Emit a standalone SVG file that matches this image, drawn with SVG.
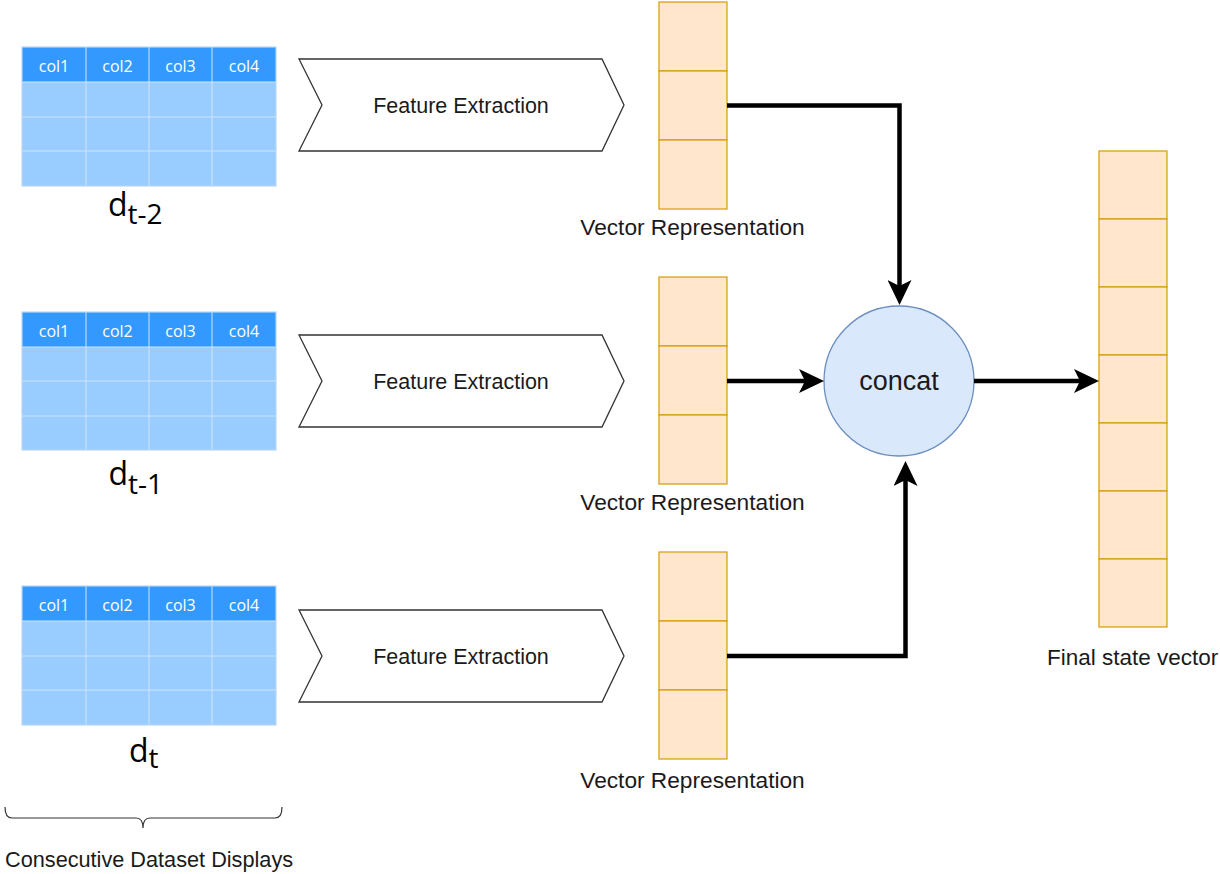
<svg xmlns="http://www.w3.org/2000/svg" width="1220" height="874" viewBox="0 0 1220 874">
<style>
  .hdr { fill: #3399ff; }
  .body { fill: #99ccff; }
  .grid { stroke: #cce5ff; stroke-width: 1; fill: none; }
  .frame { fill: none; stroke: #b9d6f2; stroke-width: 1.2; }
  .col { font-family: "Open Sans", "Noto Sans", sans-serif; font-size: 16px; fill: #ffffff; text-anchor: middle; }
  .dlab { font-family: "Open Sans", "Noto Sans", sans-serif; font-size: 32px; fill: #000000; }
  .chev { fill: #ffffff; stroke: #333333; stroke-width: 1.3; }
  .lbl { font-family: "Liberation Sans", Arial, sans-serif; fill: #1a1a1a; }
  .vec { fill: #ffe6cc; stroke: #d79b00; stroke-width: 1.2; }
  .conn { fill: none; stroke: #000000; stroke-width: 4.5; marker-end: url(#arr); }
</style>
<defs>
  <marker id="arr" markerUnits="userSpaceOnUse" markerWidth="25" markerHeight="24" viewBox="0 0 25 24" refX="6" refY="12" orient="auto">
    <path d="M0,0 L25,12 L0,24 L6,12 Z" fill="#000000"/>
  </marker>
</defs>
<rect width="1220" height="874" fill="#ffffff"/>

<!-- Tables -->
<g id="table-t2">
  <rect class="body" x="22" y="47" width="254" height="139"/>
  <rect class="hdr" x="22" y="47" width="254" height="35"/>
  <path class="grid" d="M86,47 V186 M149,47 V186 M212,47 V186 M22,82 H276 M22,117 H276 M22,151 H276"/>
  <rect class="frame" x="22" y="47" width="254" height="139"/>
  <text class="col" x="54" y="72">col1</text>
  <text class="col" x="117.5" y="72">col2</text>
  <text class="col" x="180.5" y="72">col3</text>
  <text class="col" x="244" y="72">col4</text>
  <text class="dlab" x="108" y="215.5">d<tspan font-size="28" dy="8.5">t-2</tspan></text>
</g>
<g id="table-t1">
  <rect class="body" x="22" y="312" width="254" height="138"/>
  <rect class="hdr" x="22" y="312" width="254" height="35"/>
  <path class="grid" d="M86,312 V450 M149,312 V450 M212,312 V450 M22,347 H276 M22,381 H276 M22,416 H276"/>
  <rect class="frame" x="22" y="312" width="254" height="138"/>
  <text class="col" x="54" y="337">col1</text>
  <text class="col" x="117.5" y="337">col2</text>
  <text class="col" x="180.5" y="337">col3</text>
  <text class="col" x="244" y="337">col4</text>
  <text class="dlab" x="108.5" y="485">d<tspan font-size="28" dy="8.5">t-1</tspan></text>
</g>
<g id="table-t">
  <rect class="body" x="22" y="586" width="254" height="139"/>
  <rect class="hdr" x="22" y="586" width="254" height="35"/>
  <path class="grid" d="M86,586 V725 M149,586 V725 M212,586 V725 M22,621 H276 M22,656 H276 M22,690 H276"/>
  <rect class="frame" x="22" y="586" width="254" height="139"/>
  <text class="col" x="54" y="611">col1</text>
  <text class="col" x="117.5" y="611">col2</text>
  <text class="col" x="180.5" y="611">col3</text>
  <text class="col" x="244" y="611">col4</text>
  <text class="dlab" x="129" y="761.5">d<tspan font-size="28" dy="6.5">t</tspan></text>
</g>

<!-- Brace -->
<g id="brace">
  <path d="M5,807 Q5,818 12,818 H136 Q143,818 143,828 Q143,818 150,818 H275 Q282,818 282,807" fill="none" stroke="#333333" stroke-width="1.2"/>
  <text class="lbl" x="5" y="867" font-size="21.7">Consecutive Dataset Displays</text>
</g>

<!-- Feature extraction chevrons -->
<g id="fe-1">
  <polygon class="chev" points="299,59 602,59 624,105 602,151 299,151 322,105"/>
  <text class="lbl" x="461" y="112.5" font-size="21.5" text-anchor="middle">Feature Extraction</text>
</g>
<g id="fe-2">
  <polygon class="chev" points="299,335 602,335 624,381 602,427 299,427 322,381"/>
  <text class="lbl" x="461" y="388.5" font-size="21.5" text-anchor="middle">Feature Extraction</text>
</g>
<g id="fe-3">
  <polygon class="chev" points="299,610 602,610 624,656 602,702 299,702 322,656"/>
  <text class="lbl" x="461" y="663.5" font-size="21.5" text-anchor="middle">Feature Extraction</text>
</g>

<!-- Vector representations -->
<g id="vec-1">
  <rect class="vec" x="659" y="2" width="68" height="69"/>
  <rect class="vec" x="659" y="71" width="68" height="69"/>
  <rect class="vec" x="659" y="140" width="68" height="69"/>
  <text class="lbl" x="692.5" y="235" font-size="22.7" text-anchor="middle">Vector Representation</text>
</g>
<g id="vec-2">
  <rect class="vec" x="659" y="277" width="68" height="69"/>
  <rect class="vec" x="659" y="346" width="68" height="69"/>
  <rect class="vec" x="659" y="415" width="68" height="69"/>
  <text class="lbl" x="692.5" y="510" font-size="22.7" text-anchor="middle">Vector Representation</text>
</g>
<g id="vec-3">
  <rect class="vec" x="659" y="552" width="68" height="69"/>
  <rect class="vec" x="659" y="621" width="68" height="69"/>
  <rect class="vec" x="659" y="690" width="68" height="69"/>
  <text class="lbl" x="692.5" y="788" font-size="22.7" text-anchor="middle">Vector Representation</text>
</g>

<!-- Concat -->
<g id="concat">
  <circle cx="899" cy="381" r="75" fill="#dae8fc" stroke="#6c8ebf" stroke-width="1.3"/>
  <text class="lbl" x="899" y="390" font-size="27" text-anchor="middle">concat</text>
</g>

<!-- Final state vector -->
<g id="final">
  <rect class="vec" x="1099" y="151" width="68" height="68"/>
  <rect class="vec" x="1099" y="219" width="68" height="68"/>
  <rect class="vec" x="1099" y="287" width="68" height="68"/>
  <rect class="vec" x="1099" y="355" width="68" height="68"/>
  <rect class="vec" x="1099" y="423" width="68" height="68"/>
  <rect class="vec" x="1099" y="491" width="68" height="68"/>
  <rect class="vec" x="1099" y="559" width="68" height="68"/>
  <text class="lbl" x="1047" y="665" font-size="22.5">Final state vector</text>
</g>

<!-- Connectors -->
<g id="connectors">
  <path class="conn" d="M727,105.5 H899.5 V286"/>
  <path class="conn" d="M727,381 H805"/>
  <path class="conn" d="M727,656 H905.5 V480"/>
  <path class="conn" d="M974,381 H1080"/>
</g>
</svg>
